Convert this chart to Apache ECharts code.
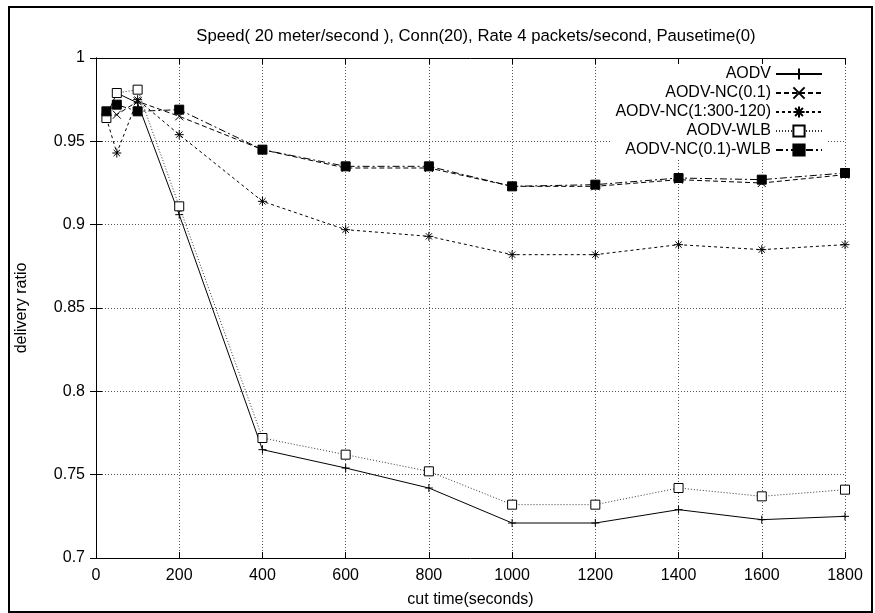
<!DOCTYPE html>
<html>
<head>
<meta charset="utf-8">
<script src="https://cdn.jsdelivr.net/npm/echarts@6/dist/echarts.min.js"></script>
<style>
html,body{margin:0;padding:0;background:#fff;}
#chart{width:875px;height:613px;}
</style>
</head>
<body>
<div id="chart"></div>
<script>
const titleText = "Speed( 20 meter/second ), Conn(20), Rate 4 packets/second, Pausetime(0)";
const xName = "cut time(seconds)";
const yName = "delivery ratio";
const cutTimes = [25, 50, 100, 200, 400, 600, 800, 1000, 1200, 1400, 1600, 1800];
const seriesNames = ["AODV", "AODV-NC(0.1)", "AODV-NC(1:300-120)", "AODV-WLB", "AODV-NC(0.1)-WLB"];
const aodv      = [0.965, 0.979, 0.973, 0.906, 0.765, 0.754, 0.742, 0.721, 0.721, 0.729, 0.723, 0.725];
const aodvNC01  = [0.965, 0.966, 0.974, 0.965, 0.945, 0.934, 0.934, 0.923, 0.923, 0.927, 0.925, 0.930];
const aodvNC300 = [0.964, 0.943, 0.975, 0.954, 0.914, 0.897, 0.893, 0.882, 0.882, 0.888, 0.885, 0.888];
const aodvWLB   = [0.964, 0.979, 0.981, 0.911, 0.772, 0.762, 0.752, 0.732, 0.732, 0.742, 0.737, 0.741];
const aodvNCWLB = [0.968, 0.972, 0.968, 0.969, 0.945, 0.935, 0.935, 0.923, 0.924, 0.928, 0.927, 0.931];
const xTicks = [0, 200, 400, 600, 800, 1000, 1200, 1400, 1600, 1800];
const yTicks = [0.7, 0.75, 0.8, 0.85, 0.9, 0.95, 1];

const FONT = "Liberation Sans";
const pair = (vals) => cutTimes.map((x, i) => [x, vals[i]]);

const SYM_PLUS  = 'path://M5,0L5,10M0,5L10,5';
const SYM_CROSS = 'path://M0,0L10,10M0,10L10,0';
const SYM_STAR  = 'path://M5,0L5,10M0,5L10,5M1.5,1.5L8.5,8.5M1.5,8.5L8.5,1.5';

function mk(name, vals, symbol, size, lineType, lineColor, itemStyle) {
  return {
    name: name, type: 'line', data: pair(vals), symbol: symbol, symbolSize: size,
    showAllSymbol: true, animation: false,
    lineStyle: { color: lineColor, width: 1, type: lineType },
    itemStyle: itemStyle,
    emphasis: { disabled: true }
  };
}

const chart = echarts.init(document.getElementById('chart'), null, { renderer: 'canvas' });
const axisCommon = {
  type: 'value',
  axisLine: { show: true, lineStyle: { color: '#000', width: 1 } },
  axisTick: { show: true, inside: true, length: 6, lineStyle: { color: '#000' } }
};
chart.setOption({
  animation: false,
  backgroundColor: '#fff',
  textStyle: { fontFamily: FONT },
  title: {
    text: titleText, left: 471, top: 23, textAlign: 'center',
    textStyle: { fontFamily: FONT, fontSize: 16.7, fontWeight: 'normal', color: '#000' }
  },
  graphic: [{
    type: 'rect', silent: true,
    shape: { x: 9, y: 7, width: 863, height: 605 },
    style: { fill: 'none', stroke: '#000', lineWidth: 2 }
  }],
  grid: { left: 96, right: 30, top: 58, bottom: 52, show: false },
  legend: {
    orient: 'vertical', right: 48, top: 64, align: 'right',
    itemWidth: 46, itemHeight: 14, itemGap: 3, padding: [2, 4],
    backgroundColor: '#fff',
    textStyle: { fontFamily: FONT, fontSize: 16, color: '#000' },
    data: seriesNames
  },
  xAxis: [
    Object.assign({}, axisCommon, {
      min: 0, max: 1800, interval: 200, position: 'bottom',
      name: xName, nameLocation: 'middle', nameGap: 34,
      nameTextStyle: { fontFamily: FONT, fontSize: 16, color: '#000' },
      axisLabel: { color: '#000', fontSize: 16, fontFamily: FONT, margin: 10,
        formatter: (v) => xTicks.includes(v) ? String(v) : '' },
      splitLine: { show: true, lineStyle: { color: '#555', type: [1, 2], width: 1 } }
    }),
    Object.assign({}, axisCommon, {
      min: 0, max: 1800, interval: 200, position: 'top',
      axisLabel: { show: false }, splitLine: { show: false }
    })
  ],
  yAxis: [
    Object.assign({}, axisCommon, {
      min: 0.7, max: 1, interval: 0.05, position: 'left',
      name: yName, nameLocation: 'middle', nameGap: 66,
      nameTextStyle: { fontFamily: FONT, fontSize: 16, color: '#000' },
      axisLabel: { color: '#000', fontSize: 16, fontFamily: FONT, margin: 11,
        formatter: (v) => { const t = yTicks.find(k => Math.abs(k - v) < 1e-6); return t === undefined ? '' : String(t); } },
      splitLine: { show: true, lineStyle: { color: '#555', type: [1, 2], width: 1 } }
    }),
    Object.assign({}, axisCommon, {
      min: 0.7, max: 1, interval: 0.05, position: 'right',
      axisLabel: { show: false }, splitLine: { show: false }
    })
  ],
  series: [
    mk(seriesNames[0], aodv, SYM_PLUS, 8, 'solid', '#000', { color: '#000', borderColor: '#000', borderWidth: 1 }),
    mk(seriesNames[1], aodvNC01, SYM_CROSS, 8, [5, 3], '#000', { color: '#000', borderColor: '#000', borderWidth: 1 }),
    mk(seriesNames[2], aodvNC300, SYM_STAR, 9, [3, 3], '#000', { color: '#000', borderColor: '#000', borderWidth: 1 }),
    mk(seriesNames[3], aodvWLB, 'rect', 9, [1, 2], '#333', { color: '#fff', borderColor: '#000', borderWidth: 1 }),
    mk(seriesNames[4], aodvNCWLB, 'rect', 9, [7, 3, 2, 3], '#000', { color: '#000', borderColor: '#000', borderWidth: 1 })
  ]
});
</script>
</body>
</html>
